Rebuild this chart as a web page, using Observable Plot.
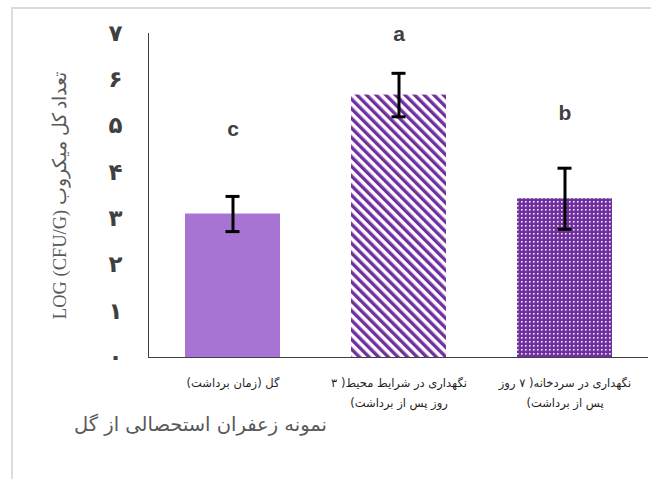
<!DOCTYPE html>
<html>
<head>
<meta charset="utf-8">
<script src="https://cdn.jsdelivr.net/npm/d3@7"></script>
<script src="https://cdn.jsdelivr.net/npm/@observablehq/plot@0.6"></script>
<style>
  body { margin: 0; background: #fff; }
  #frame { position: absolute; left: 11px; top: 7px; width: 700px; height: 500px;
           border-top: 2px solid #dcdcdc; border-left: 2px solid #dcdcdc; }
  #chart { position: absolute; left: 0; top: 0; }
</style>
</head>
<body>
<div id="frame"></div>
<div id="chart"></div>
<script>
// Saffron samples (x categories)
const categories = [
  "گل (زمان برداشت)",
  "نگهداری در شرایط محیط( ۳ روز پس از برداشت)",
  "نگهداری در سردخانه( ۷ روز پس از برداشت)"
];
// Category labels as they wrap under the bars
const tickLabels = [
  "گل (زمان برداشت)",
  "نگهداری در شرایط محیط( ۳\nروز پس از برداشت)",
  "نگهداری در سردخانه( ۷ روز\nپس از برداشت)"
];
// Mean total microbial count, log(CFU/g), and its error
const means = [3.10, 5.67, 3.43];
const errors = [0.38, 0.47, 0.66];
// Significance letters and the height they sit at
const groupLetters = ["c", "a", "b"];
const letterHeights = [4.93, 6.98, 5.28];
// Y axis ticks with Persian digits
const yTicks = [0, 1, 2, 3, 4, 5, 6, 7];
const yTickLabels = ["۰", "۱", "۲", "۳", "۴", "۵", "۶", "۷"];

const yTitle = "LOG (CFU/G) تعداد کل میکروب";
const xTitle = "نمونه زعفران استحصالی از گل";

const rows = categories.map((cat, i) => ({
  cat, mean: means[i], err: errors[i], letter: groupLetters[i], letterY: letterHeights[i]
}));

const barFills = ["#a874d3", "url(#stripes)", "url(#dots)"];

const chart = Plot.plot({
  width: 651,
  height: 479,
  marginLeft: 148,
  marginRight: 3,
  marginTop: 33,
  marginBottom: 122,
  style: { background: "transparent", overflow: "visible" },
  x: { domain: categories, paddingInner: 0.43, paddingOuter: 0.215, axis: null },
  y: { domain: [0, 7], axis: null },
  color: { type: "ordinal", domain: categories, range: barFills },
  marks: [
    Plot.barY(rows, { x: "cat", y: "mean", fill: "cat" }),
    Plot.frame({ anchor: "left", stroke: "#404040" }),
    Plot.ruleY([0], { stroke: "#404040" }),
    Plot.ruleX(rows, { x: "cat", y1: d => d.mean - d.err, y2: d => d.mean + d.err, stroke: "#000", strokeWidth: 3 }),
    Plot.tickY(rows, { x: "cat", y: d => d.mean - d.err, stroke: "#000", strokeWidth: 3, inset: 40.5 }),
    Plot.tickY(rows, { x: "cat", y: d => d.mean + d.err, stroke: "#000", strokeWidth: 3, inset: 40.5 }),
    Plot.text(rows, { x: "cat", y: "letterY", text: "letter", fontSize: 21, fontWeight: "bold",
      fontFamily: "Liberation Sans, Arial, sans-serif", fill: "#404040" }),
    Plot.axisY({ ticks: yTicks, tickFormat: d => yTickLabels[d], tickSize: 0, tickPadding: 26,
      fontSize: 23, fontWeight: "bold", fontFamily: "DejaVu Sans", fill: "#404040", label: null }),
    Plot.axisX({ tickFormat: (d, i) => tickLabels[categories.indexOf(d)], tickSize: 0, tickPadding: 16,
      fontSize: 11.5, lineHeight: 1.7, fontFamily: "DejaVu Sans", fill: "#1f1f1f", label: null }),
    Plot.text([yTitle], { frameAnchor: "left", textAnchor: "middle", dx: -88, rotate: -90, fontSize: 18.5,
      fontFamily: "Liberation Serif, serif", fill: "#595959" }),
    Plot.text([xTitle], { frameAnchor: "bottom-left", textAnchor: "middle", dx: 52, dy: 73, fontSize: 19.5,
      fontFamily: "DejaVu Sans", fill: "#595959" })
  ]
});

// Fill patterns for the striped and dotted bars
const svg = d3.select(chart);
const defs = svg.insert("defs", ":first-child");
const stripes = defs.append("pattern").attr("id", "stripes")
  .attr("patternUnits", "userSpaceOnUse").attr("width", 6.8).attr("height", 6.8)
  .attr("patternTransform", "rotate(-45)");
stripes.append("rect").attr("width", 6.8).attr("height", 6.8).attr("fill", "#fff");
stripes.append("rect").attr("width", 3.4).attr("height", 6.8).attr("fill", "#7030a0");
const dots = defs.append("pattern").attr("id", "dots")
  .attr("patternUnits", "userSpaceOnUse").attr("width", 4).attr("height", 4);
dots.append("rect").attr("width", 4).attr("height", 4).attr("fill", "#7030a0");
dots.append("rect").attr("x", 1).attr("y", 1).attr("width", 1.6).attr("height", 1.6).attr("fill", "#f2e9f7");

// Persian labels read right to left
svg.selectAll('g[aria-label="x-axis tick label"] text').attr("direction", "rtl");

document.getElementById("chart").appendChild(chart);
</script>
</body>
</html>
